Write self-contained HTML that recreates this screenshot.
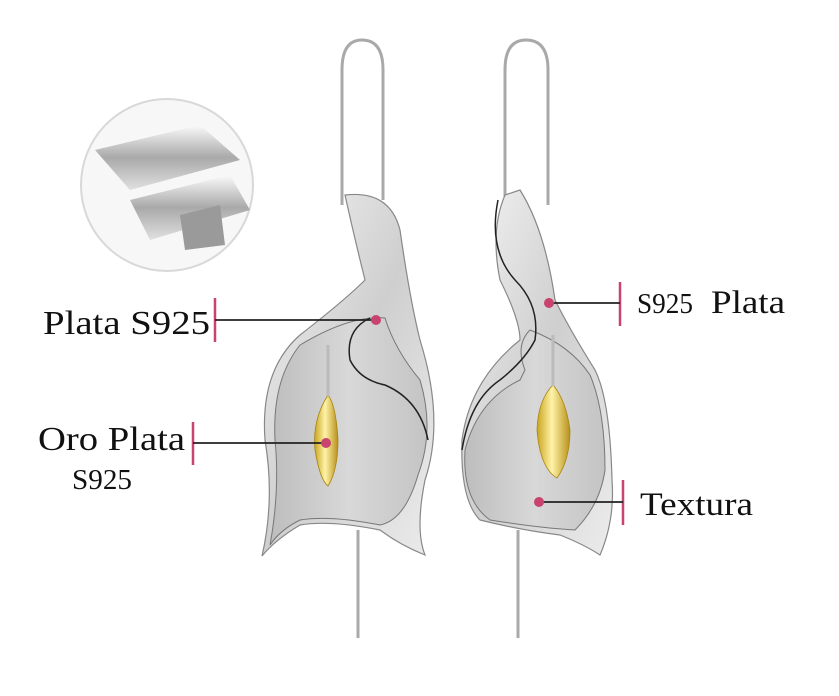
<!DOCTYPE html>
<html><head><meta charset="utf-8"><style>
html,body{margin:0;padding:0;background:#fff;}
svg{display:block}
text{font-family:"Liberation Serif",serif;fill:#111}
</style></head><body>
<svg width="839" height="696" viewBox="0 0 839 696" xmlns="http://www.w3.org/2000/svg">
<defs>
<linearGradient id="sv" x1="0" y1="0" x2="1" y2="1">
<stop offset="0" stop-color="#f4f4f4"/><stop offset="0.5" stop-color="#cfcfcf"/><stop offset="1" stop-color="#ececec"/>
</linearGradient>
<linearGradient id="in" x1="0" y1="0" x2="1" y2="0">
<stop offset="0" stop-color="#bdbdbd"/><stop offset="0.5" stop-color="#d8d8d8"/><stop offset="1" stop-color="#c4c4c4"/>
</linearGradient>
<linearGradient id="gd" x1="0" y1="0" x2="1" y2="0">
<stop offset="0" stop-color="#c9a520"/><stop offset="0.45" stop-color="#fff3a8"/><stop offset="1" stop-color="#b8901a"/>
</linearGradient>
<linearGradient id="bar" x1="0" y1="0" x2="0" y2="1">
<stop offset="0" stop-color="#fafafa"/><stop offset="0.5" stop-color="#a9a9a9"/><stop offset="1" stop-color="#e0e0e0"/>
</linearGradient>
</defs>
<rect width="839" height="696" fill="#fff"/>

<circle cx="167" cy="185" r="86" fill="#f7f7f7" stroke="#d8d8d8" stroke-width="2"/>
<g>
<polygon points="95,150 200,125 240,160 130,190" fill="url(#bar)"/>
<polygon points="130,200 230,175 250,210 150,240" fill="url(#bar)"/>
<polygon points="180,215 220,205 225,245 185,250" fill="#9a9a9a"/>
</g>

<!-- LEFT earring -->
<path d="M342,205 L342,70 Q342,40 362,40 Q383,40 383,70 L383,200" fill="none" stroke="#a9a9a9" stroke-width="3"/>
<line x1="358" y1="530" x2="358" y2="638" stroke="#aaa" stroke-width="3"/>
<path d="M345,195 Q390,190 400,230 Q410,300 420,340 Q445,420 425,480 Q415,530 425,555 Q400,545 380,530 Q330,520 300,525 Q275,540 262,556 Q275,500 265,440 Q260,370 300,335 Q345,300 365,280 Q355,240 345,195 Z" fill="url(#sv)" stroke="#888" stroke-width="1.2"/>
<path d="M300,345 Q350,315 385,318 Q395,350 420,380 Q435,430 418,475 Q405,520 380,525 Q330,515 300,520 Q280,530 270,545 Q280,490 275,440 Q272,380 300,345 Z" fill="url(#in)" stroke="#777" stroke-width="1"/>
<path d="M370,318 Q345,330 350,360 Q360,380 385,385 Q420,400 428,440" fill="none" stroke="#222" stroke-width="1.5"/>
<path d="M328,395 Q312,420 315,450 Q320,480 328,486 Q338,470 338,440 Q336,405 328,395 Z" fill="url(#gd)" stroke="#a88510" stroke-width="0.8"/>
<line x1="328" y1="345" x2="328" y2="396" stroke="#bbb" stroke-width="3"/>

<!-- RIGHT earring -->
<path d="M505,205 L505,70 Q505,40 526,40 Q548,40 548,70 L548,205" fill="none" stroke="#a9a9a9" stroke-width="3"/>
<line x1="518" y1="530" x2="518" y2="638" stroke="#aaa" stroke-width="3"/>
<path d="M505,195 Q490,230 500,280 Q520,320 520,340 Q470,380 462,440 Q460,500 480,520 Q520,530 560,535 Q585,545 600,555 Q615,520 612,480 Q610,400 595,370 Q570,330 555,300 Q545,230 520,190 Z" fill="url(#sv)" stroke="#888" stroke-width="1.2"/>
<path d="M530,330 Q515,345 525,370 L520,380 Q478,400 465,450 Q462,500 490,520 Q540,528 575,530 Q600,505 605,470 Q605,410 590,375 Q570,345 530,330 Z" fill="url(#in)" stroke="#777" stroke-width="1"/>
<path d="M498,200 Q488,250 515,280 Q540,305 535,340 Q525,360 500,380 Q470,400 462,450" fill="none" stroke="#222" stroke-width="1.5"/>
<path d="M553,385 Q538,400 537,430 Q540,468 557,478 Q570,460 570,430 Q566,400 553,385 Z" fill="url(#gd)" stroke="#a88510" stroke-width="0.8"/>
<line x1="553" y1="335" x2="553" y2="386" stroke="#bbb" stroke-width="3"/>

<g stroke="#c8436e" stroke-width="2.5">
<line x1="215" y1="298" x2="215" y2="342"/>
<line x1="193" y1="422" x2="193" y2="465"/>
<line x1="620" y1="282" x2="620" y2="326"/>
<line x1="623" y1="480" x2="623" y2="525"/>
</g>
<g stroke="#222" stroke-width="1.8">
<line x1="215" y1="320" x2="376" y2="320"/>
<line x1="193" y1="443" x2="326" y2="443"/>
<line x1="549" y1="303" x2="620" y2="303"/>
<line x1="539" y1="502" x2="623" y2="502"/>
</g>
<g fill="#c8436e">
<circle cx="376" cy="320" r="5"/>
<circle cx="326" cy="443" r="5"/>
<circle cx="549" cy="303" r="5"/>
<circle cx="539" cy="502" r="5"/>
</g>

<text x="43" y="334" font-size="34" textLength="167" lengthAdjust="spacingAndGlyphs">Plata S925</text>
<text x="38" y="450" font-size="34" textLength="147" lengthAdjust="spacingAndGlyphs">Oro Plata</text>
<text x="72" y="489" font-size="28" textLength="60" lengthAdjust="spacingAndGlyphs">S925</text>
<text x="637" y="313" font-size="28" textLength="56" lengthAdjust="spacingAndGlyphs">S925</text>
<text x="711" y="313" font-size="33" textLength="74" lengthAdjust="spacingAndGlyphs">Plata</text>
<text x="640" y="515" font-size="33" textLength="113" lengthAdjust="spacingAndGlyphs">Textura</text>
</svg>
</body></html>
